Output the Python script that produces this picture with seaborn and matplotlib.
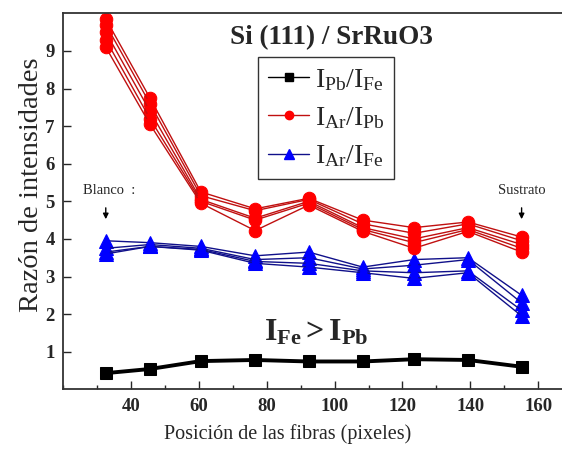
import numpy as np
import pandas as pd
import matplotlib
matplotlib.use("Agg")
import matplotlib.pyplot as plt
from matplotlib.lines import Line2D
from matplotlib.ticker import MultipleLocator
import seaborn as sns

# Fibre positions (pixels)
positions = [32.6, 45.6, 60.6, 76.6, 92.4, 108.3, 123.4, 139.3, 155.1]

# I_Pb / I_Fe
pb_fe = [0.43, 0.54, 0.75, 0.78, 0.74, 0.74, 0.80, 0.78, 0.60]

# I_Ar / I_Pb, one list per scan
ar_pb_1 = [9.85, 7.75, 5.25, 4.80, 5.08, 4.50, 4.30, 4.45, 4.05]
ar_pb_2 = [9.70, 7.60, 5.15, 4.75, 5.05, 4.40, 4.15, 4.40, 3.95]
ar_pb_3 = [9.50, 7.40, 5.05, 4.55, 5.00, 4.30, 4.00, 4.30, 3.85]
ar_pb_4 = [9.30, 7.20, 5.00, 4.50, 4.95, 4.25, 3.90, 4.25, 3.75]
ar_pb_5 = [9.10, 7.05, 4.95, 4.22, 4.90, 4.20, 3.75, 4.20, 3.65]

# I_Ar / I_Fe, one list per scan
ar_fe_1 = [3.95, 3.90, 3.80, 3.55, 3.65, 3.25, 3.45, 3.50, 2.50]
ar_fe_2 = [3.75, 3.85, 3.75, 3.45, 3.50, 3.20, 3.30, 3.45, 2.30]
ar_fe_3 = [3.65, 3.80, 3.72, 3.40, 3.35, 3.15, 3.10, 3.15, 2.10]
ar_fe_4 = [3.60, 3.80, 3.70, 3.35, 3.25, 3.10, 2.95, 3.10, 1.95]

x_ticks = [40, 60, 80, 100, 120, 140, 160]
y_ticks = [1, 2, 3, 4, 5, 6, 7, 8, 9]


def long_form(runs):
    rows = []
    for k, vals in enumerate(runs):
        for xv, yv in zip(positions, vals):
            rows.append({"pos": xv, "ratio": yv, "run": k})
    return pd.DataFrame(rows)


df_black = long_form([pb_fe])
df_red = long_form([ar_pb_1, ar_pb_2, ar_pb_3, ar_pb_4, ar_pb_5])
df_blue = long_form([ar_fe_1, ar_fe_2, ar_fe_3, ar_fe_4])

sns.set_theme(style="ticks")
plt.rcParams["font.family"] = ["Liberation Serif", "DejaVu Serif"]
plt.rcParams["mathtext.fontset"] = "custom"
plt.rcParams["mathtext.rm"] = "Liberation Serif"
plt.rcParams["mathtext.it"] = "Liberation Serif:italic"
plt.rcParams["mathtext.bf"] = "Liberation Serif:bold"

fig = plt.figure(figsize=(5.62, 4.49), dpi=100)
ax = fig.add_axes([63 / 562, 59.7 / 449, 1.0 - 63 / 562, (389.3 - 13.3) / 449])

RED_M, RED_L = "#ff0000", "#c01010"
BLUE_M, BLUE_L = "#0000ff", "#10108a"

sns.lineplot(data=df_blue, x="pos", y="ratio", units="run", estimator=None,
             color=BLUE_L, lw=1.0, marker="^", markersize=10,
             markerfacecolor=BLUE_M, markeredgecolor=BLUE_M, ax=ax, legend=False)
sns.lineplot(data=df_red, x="pos", y="ratio", units="run", estimator=None,
             color=RED_L, lw=1.0, marker="o", markersize=9,
             markerfacecolor=RED_M, markeredgecolor=RED_M, ax=ax, legend=False)
sns.lineplot(data=df_black, x="pos", y="ratio", units="run", estimator=None,
             color="black", lw=2.8, marker="s", markersize=9,
             markerfacecolor="black", markeredgecolor="black", ax=ax, legend=False)

ax.set_xlim(20, 167)
ax.set_ylim(0, 10)
ax.set_xticks(x_ticks)
ax.set_yticks(y_ticks)
ax.xaxis.set_minor_locator(MultipleLocator(10))
ax.tick_params(axis="both", which="major", direction="in", length=6, width=1,
               labelsize=13.5, pad=6)
ax.tick_params(axis="x", which="minor", direction="in", length=3, width=1)
for lab in ax.get_xticklabels() + ax.get_yticklabels():
    lab.set_fontweight("bold")
for side in ("left", "bottom", "top"):
    ax.spines[side].set_color("#333333")
    ax.spines[side].set_linewidth(1.3)
ax.spines["right"].set_visible(False)

ax.set_xlabel("Posición de las fibras (pixeles)", fontsize=14.5)
ax.xaxis.set_label_coords((288 - 63) / 499, (389.3 - 424) / 376)
ax.set_ylabel("Razón de intensidades", fontsize=20.5)
ax.yaxis.set_label_coords((44 - 63) / 499, (389.3 - 185) / 376)

# Title inside the plot
ax.text(331 / 562, 1 - 38 / 449, "Si (111) / SrRuO3", transform=fig.transFigure,
        ha="center", va="center", fontsize=19.5, fontweight="bold")

handles = [
    Line2D([], [], color="black", lw=1.0, marker="s", markersize=6),
    Line2D([], [], color=RED_L, lw=1.0, marker="o", markersize=6,
           markerfacecolor=RED_M, markeredgecolor=RED_M),
    Line2D([], [], color=BLUE_L, lw=1.0, marker="^", markersize=7,
           markerfacecolor=BLUE_M, markeredgecolor=BLUE_M),
]
labels = [r"$\mathregular{I_{Pb}/I_{Fe}}$",
          r"$\mathregular{I_{Ar}/I_{Pb}}$",
          r"$\mathregular{I_{Ar}/I_{Fe}}$"]
leg = fig.legend(handles, labels, loc="upper left",
                 bbox_to_anchor=(258 / 562, 1 - 57 / 449),
                 frameon=True, fancybox=False, fontsize=20, handlelength=1.5,
                 handletextpad=0.2, borderpad=0.35, labelspacing=0.45,
                 borderaxespad=0)
leg.get_frame().set_edgecolor("black")
leg.get_frame().set_linewidth(1.0)

# Annotations marking blank and substrate ends
ax.text(83 / 562, 1 - 190 / 449, "Blanco  :", transform=fig.transFigure,
        ha="left", va="center", fontsize=10.5)
ax.annotate("", xy=(positions[0], 4.45), xytext=(positions[0], 4.9),
            arrowprops=dict(arrowstyle="-|>", color="black", lw=1,
                            mutation_scale=8))
ax.text(522 / 562, 1 - 190 / 449, "Sustrato", transform=fig.transFigure,
        ha="center", va="center", fontsize=10.5)
ax.annotate("", xy=(positions[-1], 4.45), xytext=(positions[-1], 4.9),
            arrowprops=dict(arrowstyle="-|>", color="black", lw=1,
                            mutation_scale=8))

ax.text(316 / 562, 1 - 333 / 449, r"$\mathbf{I_{Fe} > I_{Pb}}$",
        transform=fig.transFigure, ha="center", va="center", fontsize=23)

fig.savefig("out.png", dpi=100)
